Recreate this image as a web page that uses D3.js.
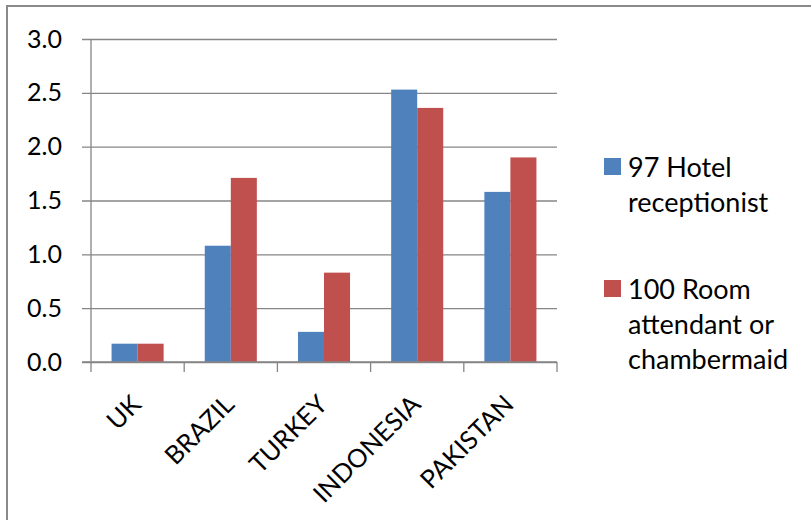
<!DOCTYPE html>
<html><head><meta charset="utf-8">
<script src="https://cdn.jsdelivr.net/npm/d3@7"></script>
<style>body{margin:0;background:#fff}svg{display:block}</style>
</head><body><svg id="c" width="811" height="520"></svg>
<script>
const categories = ["UK","BRAZIL","TURKEY","INDONESIA","PAKISTAN"];
const seriesNames = ["97 Hotel receptionist","100 Room attendant or chambermaid"];
const receptionist = [0.17,1.08,0.28,2.53,1.58];
const roomAttendant = [0.17,1.71,0.83,2.36,1.90];
const yTicks = [0,0.5,1.0,1.5,2.0,2.5,3.0];
const legendLines = [["97 Hotel","receptionist"],["100 Room","attendant or","chambermaid"]];
const colors = ["#4F81BD","#C0504D"];

const svg = d3.select("#c");
const font = "Lato, 'Open Sans', sans-serif";
const m = {l:91, r:557, t:39, b:362};

svg.append("rect").attr("x",7).attr("y",6).attr("width",900).attr("height",600)
  .attr("fill","none").attr("stroke","#8a8a8a").attr("stroke-width",2);

const x0 = d3.scaleBand().domain(categories).range([m.l,m.r]).padding(0);
const x1 = d3.scaleBand().domain([0,1]).range([0,x0.bandwidth()]).paddingInner(0).paddingOuter(0.79);
const y = d3.scaleLinear().domain([0,3]).range([m.b,m.t]);

// y axis with gridlines
const yAxis = d3.axisLeft(y).tickValues(yTicks).tickFormat(d3.format(".1f"))
  .tickSize(-(m.r-m.l)).tickPadding(20);
const gy = svg.append("g").attr("transform",`translate(${m.l},0)`).call(yAxis);
gy.select(".domain").remove();
gy.selectAll(".tick line").attr("stroke","#868686").attr("stroke-width",1.3).attr("x1",-9);
gy.selectAll(".tick text").attr("font-family",font).attr("font-size",25).attr("fill","#000").attr("x",-29);

svg.append("line").attr("x1",m.l).attr("x2",m.l).attr("y1",m.t).attr("y2",m.b)
  .attr("stroke","#868686").attr("stroke-width",1.3);

// bars
const data = categories.map((c,i)=>({c, v:[receptionist[i], roomAttendant[i]]}));
svg.append("g").selectAll("g").data(data).join("g")
  .attr("transform",d=>`translate(${x0(d.c)},0)`)
  .selectAll("rect").data(d=>d.v.map((v,j)=>({v,j}))).join("rect")
  .attr("x",d=>x1(d.j)).attr("width",x1.bandwidth())
  .attr("y",d=>y(d.v)).attr("height",d=>y(0)-y(d.v))
  .attr("fill",d=>colors[d.j]);

// x axis
const xAxis = d3.axisBottom(x0).tickSize(0).tickFormat(d=>d);
const gx = svg.append("g").attr("transform",`translate(0,${m.b})`).call(xAxis);
gx.select(".domain").remove();
gx.selectAll(".tick text").remove();
svg.append("line").attr("x1",m.l-9).attr("x2",m.r).attr("y1",m.b).attr("y2",m.b)
  .attr("stroke","#868686").attr("stroke-width",1.3);
const bounds = categories.map(c=>x0(c)).concat([m.r]);
svg.append("g").selectAll("line").data(bounds).join("line")
  .attr("x1",d=>d).attr("x2",d=>d).attr("y1",m.b).attr("y2",m.b+10)
  .attr("stroke","#868686").attr("stroke-width",1.3);
svg.append("g").selectAll("text").data(categories).join("text")
  .attr("transform",d=>`translate(${x0(d)+x0.bandwidth()/2+5},${m.b+44}) rotate(-45)`)
  .attr("text-anchor","end").attr("font-family",font).attr("font-size",25.5).attr("fill","#000")
  .text(d=>d);

// legend
const legendTop = [177, 299];
const lg = svg.append("g");
seriesNames.forEach((s,i)=>{
  lg.append("rect").attr("x",604).attr("y",legendTop[i]-19).attr("width",17).attr("height",17)
    .attr("fill",colors[i]);
  lg.append("text").attr("font-family",font).attr("font-size",27).attr("fill","#000")
    .selectAll("tspan").data(legendLines[i]).join("tspan")
    .attr("x",628).attr("y",(d,k)=>legendTop[i]+k*35).text(d=>d);
});
</script></body></html>
